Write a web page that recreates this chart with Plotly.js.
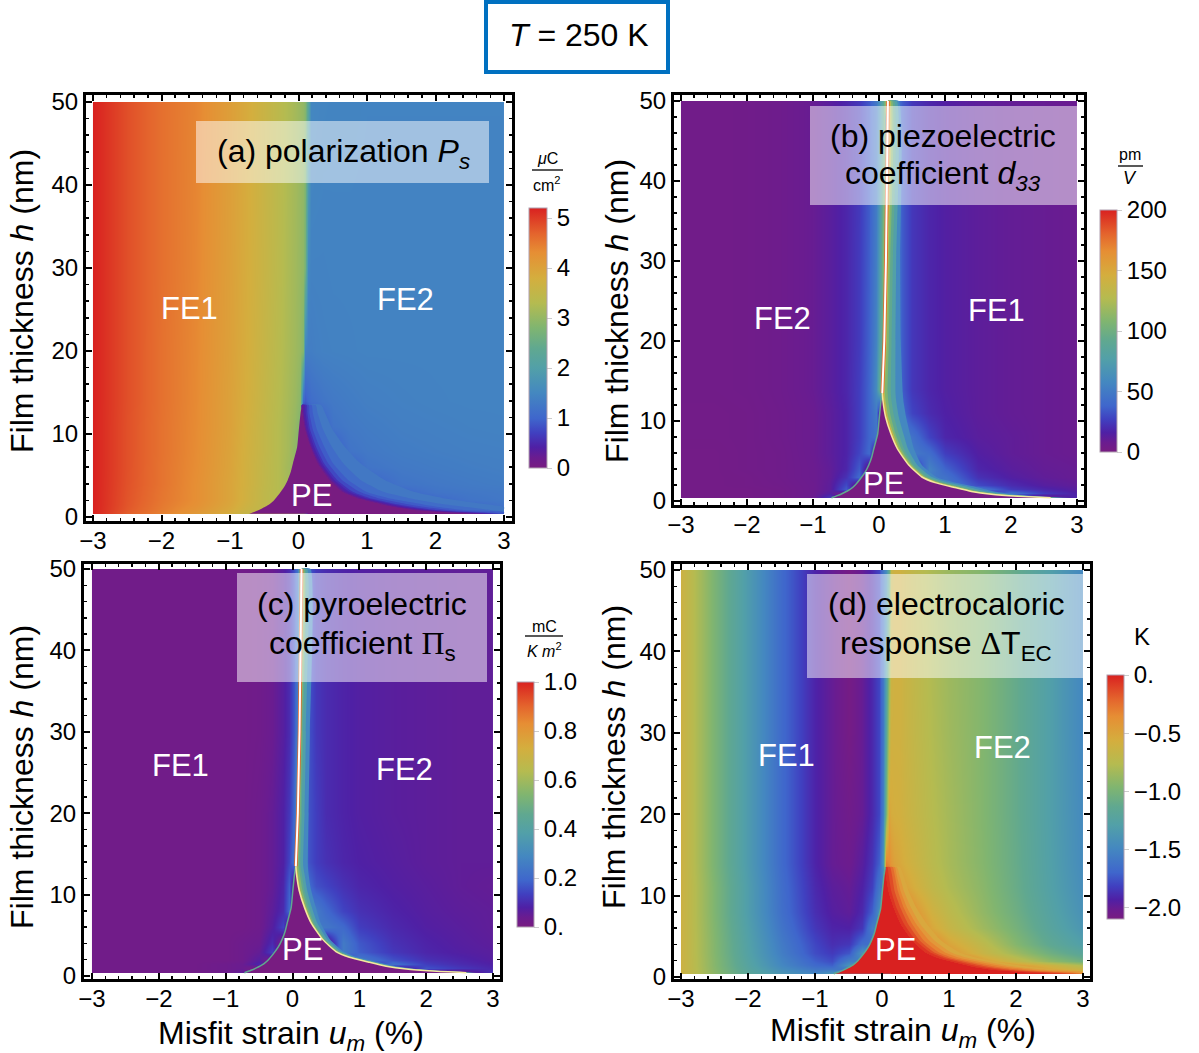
<!DOCTYPE html>
<html><head><meta charset="utf-8">
<script src="https://cdn.plot.ly/plotly-3.0.1.min.js"></script>
<style>html,body{margin:0;padding:0;background:#fff}#c{width:1199px;height:1053px}</style>
</head><body><div id="c"></div>
<script>
const strainNodes=[-3,-2.5,-2,-1.5,-1,-0.75,-0.5,-0.3,-0.15,-0.05,0.02,0.06,0.1,0.14,0.18,0.25,0.35,0.5,0.75,1,1.5,2,2.5,3];
const thicknessNodes=[0.4,1,1.5,2,3,4,6,8,11,14,20,30,50];
const peLeftH=[0.4,0.55,0.7,1,1.25,1.5,2,2.9,3.6,4.5,5.5,6.5,8.4,10.5,12.5,13.5];
const peLeftU=[-0.72,-0.67,-0.62,-0.54,-0.48,-0.43,-0.36,-0.27,-0.21,-0.155,-0.11,-0.08,-0.02,0.005,0.03,0.05];
const peRightH=[13.5,12.5,10.5,8.4,6.5,4.5,3,2.3,1.7,1.2,0.85,0.6,0.4];
const peRightU=[0.05,0.06,0.1,0.18,0.28,0.45,0.65,0.85,1.14,1.4,1.7,2.1,2.6];
const wallH=[13.5,20,30,50];
const wallU=[0.05,0.08,0.105,0.135];
// contour lines on the high-strain side of the boundary, thickness rising
const isoH=[0.4,0.6,0.85,1.2,1.7,2.3,3,4.5,6.5,8.4,10.5,12.5,13.5,20,30,50];
const edgeU=[2.6,2.1,1.7,1.4,1.14,0.85,0.65,0.45,0.28,0.18,0.1,0.06,0.05,0.08,0.105,0.135];
const polar015=[2.68,2.17,1.76,1.45,1.18,0.88,0.67,0.47,0.295,0.19,0.11,0.07,0.06];
const polar030=[2.75,2.25,1.82,1.5,1.22,0.92,0.7,0.49,0.31,0.2,0.12,0.08,0.07];
const polar045=[2.85,2.35,1.9,1.58,1.28,0.97,0.75,0.52,0.34,0.23,0.145,0.105,0.095];
const polar060=[2.95,2.45,2,1.68,1.35,1.03,0.8,0.56,0.37,0.26,0.17,0.13,0.12];
const polar075=[3,2.7,2.2,1.85,1.5,1.15,0.9,0.63,0.43,0.31,0.21,0.16,0.15];
const polar090=[3,3,2.4,2.05,1.7,1.3,1,0.72,0.5,0.38,0.27,0.21,0.19];
const polar105=[3,3,2.8,2.45,2,1.6,1.25,0.9,0.65,0.49,0.36,0.28,0.25];
const polar120=[3,3,3,3,2.6,2.1,1.7,1.25,0.9,0.68,0.5,0.39,0.33];
const piezo54=[2.9,2.4,2.05,1.75,1.5,1.15,0.87,0.65,0.53,0.47,0.41,0.37,0.36,0.33,0.32,0.3];
const piezo73=[2.8,2.3,1.95,1.63,1.38,1.05,0.8,0.58,0.44,0.37,0.3,0.26,0.25,0.25,0.26,0.27];
const piezo91=[2.75,2.25,1.88,1.55,1.3,0.98,0.75,0.53,0.38,0.3,0.23,0.19,0.18,0.19,0.21,0.23];
const piezo109=[2.7,2.2,1.82,1.5,1.24,0.93,0.71,0.5,0.34,0.25,0.18,0.14,0.13,0.15,0.17,0.2];
const piezo127=[2.66,2.16,1.77,1.46,1.2,0.9,0.69,0.48,0.31,0.22,0.14,0.1,0.09,0.12,0.145,0.175];
const piezo163=[2.63,2.13,1.73,1.43,1.17,0.87,0.67,0.46,0.29,0.2,0.12,0.075,0.07,0.1,0.125,0.155];
const pyro27=[2.75,2.25,1.87,1.55,1.28,0.97,0.76,0.56,0.42,0.35,0.28,0.24,0.23,0.24,0.26,0.27];
const pyro36=[2.7,2.2,1.82,1.5,1.24,0.93,0.72,0.52,0.37,0.29,0.22,0.18,0.16,0.18,0.2,0.22];
const pyro45=[2.67,2.17,1.78,1.47,1.21,0.9,0.7,0.49,0.33,0.25,0.18,0.14,0.12,0.14,0.16,0.19];
const pyro55=[2.65,2.15,1.75,1.45,1.19,0.88,0.68,0.47,0.31,0.22,0.15,0.11,0.095,0.12,0.14,0.175];
const pyro73=[2.62,2.12,1.72,1.42,1.16,0.86,0.66,0.46,0.29,0.2,0.12,0.08,0.07,0.1,0.12,0.155];
const caloric050=[3,3,2.75,2.28,1.85,1.45,1.16,0.88,0.67,0.52,0.4,0.32,0.27];
const caloric042=[3,3,2.5,2.05,1.68,1.3,1.03,0.78,0.57,0.44,0.33,0.26,0.22];
const caloric033=[3,2.8,2.28,1.9,1.55,1.18,0.94,0.7,0.51,0.38,0.28,0.22,0.19];
const caloric025=[3,2.6,2.1,1.75,1.42,1.08,0.85,0.62,0.45,0.33,0.24,0.19,0.16];
const caloric016=[2.9,2.4,1.95,1.62,1.32,1,0.78,0.56,0.39,0.28,0.19,0.15,0.12];
const caloric008=[2.75,2.25,1.82,1.5,1.22,0.93,0.72,0.5,0.33,0.22,0.14,0.1,0.08];
const zPolarization=[
[5.2,4.72,4.42,4.12,3.78,3.5,3.35,3.3,3.2,3.1,3,3,3,0,0,0,0,0,0,0,0,0,0,.55],
[5.2,4.78,4.48,4.22,3.88,3.62,3.45,3.35,3.3,3.2,3.1,3.1,0,0,0,0,0,0,0,0,0,.65,.85,1.15],
[5.2,4.8,4.5,4.27,3.92,3.66,3.45,3.35,3.3,3.2,3.1,3.1,0,0,0,0,0,0,0,0,.55,.9,1.02,1.2],
[5.2,4.81,4.52,4.3,3.95,3.7,3.45,3.3,3.2,3.1,3.1,3.1,0,0,0,0,0,0,0,.25,.8,1.02,1.2,1.26],
[5.2,4.82,4.53,4.3,3.95,3.7,3.45,3.3,3.2,3.1,3,3,0,0,0,0,0,0,.45,.8,1.02,1.2,1.25,1.28],
[5.2,4.83,4.55,4.3,3.95,3.72,3.47,3.3,3.15,3.1,3,3,0,0,0,0,0,0,.65,.92,1.2,1.26,1.3,1.33],
[5.2,4.84,4.55,4.32,3.97,3.72,3.48,3.3,3.12,3,2.9,2.9,0,0,0,0,.2,.6,.9,1.2,1.28,1.32,1.35,1.37],
[5.2,4.84,4.56,4.33,3.98,3.73,3.5,3.3,3.15,2.95,2.8,2.8,0,0,0,.3,.55,.8,1.2,1.27,1.33,1.36,1.38,1.39],
[5.2,4.84,4.56,4.34,4,3.75,3.5,3.3,3.15,3,2.8,0,.1,.4,.55,.7,.9,1.2,1.28,1.32,1.37,1.39,1.41,1.42],
[5.2,4.85,4.57,4.35,4,3.78,3.52,3.32,3.17,3.05,2.9,1,.9,1,1.1,1.15,1.22,1.28,1.33,1.37,1.4,1.42,1.43,1.43],
[5.2,4.85,4.57,4.36,4.02,3.8,3.55,3.35,3.2,3.1,3,2.85,1.4,1.35,1.35,1.38,1.4,1.41,1.42,1.43,1.43,1.43,1.43,1.43],
[5.2,4.85,4.58,4.38,4.03,3.82,3.58,3.38,3.22,3.12,3.02,2.95,2.7,1.5,1.42,1.42,1.42,1.43,1.43,1.43,1.43,1.43,1.43,1.43],
[5.2,4.85,4.58,4.4,4.05,3.85,3.6,3.4,3.25,3.15,3.05,2.98,2.85,2.2,1.5,1.48,1.46,1.45,1.45,1.44,1.44,1.44,1.44,1.44]];
const zPiezo=[
[3,3,3,3.5,8,25,0,0,0,0,0,0,0,0,0,0,0,0,0,0,0,0,0,20],
[3,3,3,4,7,15,0,0,0,0,0,0,0,0,0,0,0,0,0,0,0,45,25,16],
[3,3,3,4,7,12,35,0,0,0,0,0,0,0,0,0,0,0,0,0,50,25,18,13],
[3,3,3.5,4.5,7,12,30,0,0,0,0,0,0,0,0,0,0,0,0,50,30,20,14,11],
[3,3,3.5,5,7.5,11,22,40,0,0,0,0,0,0,0,0,0,0,50,45,22,15,11,9],
[3,3,4,5,7.5,11,18,35,0,0,0,0,0,0,0,0,0,0,55,38,18,13,10,9],
[3,3,4,5,8,12,17,28,40,0,0,0,0,0,0,0,50,50,42,26,15,11,9,8],
[3.5,3.5,4,5.5,8,12,17,26,38,45,0,0,0,0,0,50,50,45,28,18,13,11,9,8],
[3.5,3.5,4,5.5,8,12,17,26,38,50,0,0,50,50,50,50,40,28,20,16,12,10,9,8],
[4,4,4.5,6,9,13,18,26,38,60,100,50,50,50,50,50,35,24,18,15,12,10,9,8],
[4,4,4.5,6,9,13,18,25,37,55,85,100,50,50,50,50,35,24,18,15,12,10,9,8],
[4,4,4.5,6,9,13,18,25,36,52,78,110,110,50,50,50,35,24,18,15,12,10,9,8],
[4,4,4.5,6,9,13,18,24,34,48,70,90,125,50,50,50,35,24,18,15,12,10,9,8]];
const zPyro=[
[.02,.02,.02,.02,.03,.06,0,0,0,0,0,0,0,0,0,0,0,0,0,0,0,0,0,.12],
[.02,.02,.02,.02,.03,.04,0,0,0,0,0,0,0,0,0,0,0,0,0,0,0,.16,.12,.09],
[.02,.02,.02,.02,.03,.04,.09,0,0,0,0,0,0,0,0,0,0,0,0,0,.22,.13,.1,.08],
[.02,.02,.02,.02,.02,.03,.07,0,0,0,0,0,0,0,0,0,0,0,0,.25,.16,.11,.09,.07],
[.02,.02,.02,.02,.02,.03,.05,.13,0,0,0,0,0,0,0,0,0,0,.25,.18,.12,.09,.075,.065],
[.02,.02,.02,.02,.02,.03,.04,.1,0,0,0,0,0,0,0,0,0,0,.25,.17,.11,.085,.07,.06],
[.02,.02,.02,.02,.02,.02,.03,.07,.14,0,0,0,0,0,0,0,.25,.24,.2,.13,.095,.075,.065,.055],
[.02,.02,.02,.02,.02,.02,.03,.06,.1,.2,0,0,0,0,0,.25,.25,.2,.14,.11,.085,.07,.06,.055],
[.02,.02,.02,.02,.02,.02,.03,.05,.09,.18,0,0,.25,.25,.25,.2,.16,.14,.11,.09,.075,.065,.055,.05],
[.02,.02,.02,.02,.02,.02,.03,.05,.08,.14,.22,.25,.25,.25,.2,.16,.13,.11,.09,.08,.07,.06,.055,.055],
[.02,.02,.02,.02,.02,.02,.03,.05,.08,.12,.2,.35,.25,.25,.22,.16,.13,.1,.085,.075,.065,.06,.055,.055],
[.02,.02,.02,.02,.02,.02,.025,.04,.07,.1,.17,.25,.5,.25,.25,.16,.12,.1,.085,.075,.065,.06,.055,.055],
[.02,.02,.02,.02,.02,.02,.025,.04,.07,.1,.16,.22,.4,.25,.25,.17,.12,.1,.085,.075,.065,.06,.055,.055]];
const zCaloric=[
[-.62,-.92,-1.18,-1.38,-1.5,-1.35,-1.35,-1.35,-1.35,-1.35,-1.35,-1.35,-1.35,0,0,0,0,0,0,0,0,0,0,-.45],
[-.62,-.94,-1.22,-1.45,-1.6,-1.6,-1.6,-1.6,-1.6,-1.6,-1.6,-1.6,-1.6,0,0,0,0,0,0,0,0,-.3,-.52,-.65],
[-.62,-.95,-1.24,-1.5,-1.68,-1.72,-1.4,-1.4,-1.4,-1.4,-1.4,-1.4,-1.4,0,0,0,0,0,0,0,-.12,-.45,-.62,-.8],
[-.62,-.95,-1.25,-1.52,-1.72,-1.78,-1.55,-1.55,-1.55,-1.55,-1.55,-1.55,-1.55,0,0,0,0,0,0,-.05,-.45,-.68,-.9,-1.05],
[-.62,-.96,-1.27,-1.56,-1.78,-1.84,-1.75,-1.4,-1.4,-1.4,-1.4,-1.4,-1.4,0,0,0,0,0,-.2,-.4,-.65,-.85,-1.05,-1.2],
[-.62,-.96,-1.28,-1.58,-1.8,-1.88,-1.85,-1.65,-1.65,-1.65,-1.65,-1.65,-1.65,0,0,0,0,0,-.3,-.5,-.72,-.95,-1.15,-1.3],
[-.62,-.97,-1.3,-1.62,-1.85,-1.92,-1.93,-1.85,-1.55,-1.55,-1.55,-1.55,-1.55,0,0,0,-.05,-.3,-.52,-.66,-.85,-1.02,-1.22,-1.38],
[-.62,-.98,-1.32,-1.65,-1.88,-1.95,-1.98,-1.9,-1.72,-1.45,-1.45,-1.45,-1.45,0,0,-.1,-.25,-.42,-.6,-.72,-.9,-1.06,-1.25,-1.42],
[-.62,-.98,-1.32,-1.66,-1.9,-1.97,-2,-1.93,-1.82,-1.6,-1.6,0,-.02,-.2,-.3,-.4,-.48,-.58,-.7,-.79,-.93,-1.09,-1.28,-1.45],
[-.62,-1,-1.34,-1.68,-1.92,-2,-2.03,-1.96,-1.86,-1.72,-1.4,-.3,-.35,-.42,-.48,-.52,-.57,-.64,-.74,-.82,-.95,-1.1,-1.29,-1.47],
[-.62,-1,-1.34,-1.68,-1.92,-2,-2.05,-2,-1.9,-1.8,-1.55,-1,-.5,-.55,-.57,-.58,-.62,-.68,-.76,-.83,-.96,-1.11,-1.3,-1.48],
[-.62,-1,-1.34,-1.68,-1.92,-2,-2.08,-2,-1.9,-1.8,-1.6,-1.2,-.75,-.6,-.6,-.6,-.64,-.7,-.78,-.85,-.96,-1.11,-1.3,-1.5],
[-.62,-1,-1.34,-1.68,-1.92,-2,-2.08,-2,-1.9,-1.8,-1.6,-1.45,-1.1,-.68,-.6,-.6,-.65,-.72,-.8,-.87,-.96,-1.11,-1.3,-1.5]];
const rainbowStops=[0,.04,.08,.135,.19,.29,.385,.46,.54,.635,.73,.83,.9,1];
const rainbowColors=['#781C81','#6A1C90','#4F20A5','#4040C0','#3F66CC','#4488C0','#52A0A8','#60A890','#80B570','#B5BB50','#D4AE3E','#E68E34','#E4652D','#D92120'];

const W=1199,H=1053,FONT='"Liberation Sans", Arial, sans-serif',SERIF='Liberation Serif';
const px=v=>v/W, py=v=>1-v/H;
const scale=rainbowColors.map((c,i)=>[rainbowStops[i],c]);
// Copies the outermost rows and columns so the colours stop at the data edge.
const padX=[strainNodes[0],strainNodes[0]+0.001,...strainNodes.slice(1,-1),strainNodes[strainNodes.length-1]-0.001,strainNodes[strainNodes.length-1]];
const padY=[thicknessNodes[0],thicknessNodes[0]+0.001,...thicknessNodes.slice(1,-1),thicknessNodes[thicknessNodes.length-1]-0.001,thicknessNodes[thicknessNodes.length-1]];
const padZ=z=>{const r=z.map(q=>[q[0],...q,q[q.length-1]]);return [r[0],...r,r[r.length-1]];};

const panels=[
 {id:'',f:[83,515,92,524],x3:[93,504],y50:[102,517],z:zPolarization,zr:[0,5.2],cb:[529,208,18,260],tv:[0,1,2,3,4,5],tt:['0','1','2','3','4','5'],pe:'#781C81',
  bands:[[polar120,'#4278C4'],[polar105,'#406CC8'],[polar090,'#3F5CC8'],[polar075,'#4048C2'],[polar060,'#4530B5'],[polar045,'#4D22A8'],[polar030,'#5C1E9C'],[polar015,'#6C1C8E']]},
 {id:'2',f:[671,1087,92,508],x3:[681,1077],y50:[101,501],z:zPiezo,zr:[0,200],cb:[1100,210,17,242],tv:[0,50,100,150,200],tt:['0','50','100','150','200'],pe:'#781C81',ridge:true,
  bands:[[piezo54,'#4488C0'],[piezo73,'#52A0A8'],[piezo91,'#60A890'],[piezo109,'#80B570'],[piezo127,'#B5BB50'],[piezo163,'#E0A038']]},
 {id:'3',f:[81,503,561,982],x3:[92,493],y50:[569,976],z:zPyro,zr:[0,1],cb:[517,682,17,245],tv:[0,.2,.4,.6,.8,1],tt:['0.','0.2','0.4','0.6','0.8','1.0'],pe:'#781C81',ridge:true,
  bands:[[pyro27,'#4488C0'],[pyro36,'#52A0A8'],[pyro45,'#60A890'],[pyro55,'#80B570'],[pyro73,'#C8B548']]},
 {id:'4',f:[671,1093,561,982],x3:[681,1083],y50:[570,977],z:zCaloric,zr:[-2.1,0],cb:[1107,675,17,244],tv:[0,-.5,-1,-1.5,-2],tt:['0.','−0.5','−1.0','−1.5','−2.0'],pe:'#D92120',leftEdge:true,
  bands:[[caloric050,'#D9A83E'],[caloric042,'#E2983A'],[caloric033,'#E68432'],[caloric025,'#E46B2E'],[caloric016,'#E04C27'],[caloric008,'#DD3423']]}
];
const traces=[];const layout={width:W,height:H,margin:{l:0,r:0,t:0,b:0},paper_bgcolor:'#fff',plot_bgcolor:'#fff',showlegend:false,font:{family:FONT,color:'#000'},shapes:[],annotations:[]};
const polyU=[...peLeftU,...peRightU], polyH=[...peLeftH,...peRightH];
panels.forEach(p=>{
 const xa='x'+p.id, ya='y'+p.id;
 traces.push({type:'heatmap',x:padX,y:padY,z:padZ(p.z),xaxis:xa,yaxis:ya,zsmooth:'best',colorscale:scale,zmin:p.zr[0],zmax:p.zr[1],hoverinfo:'skip',
  colorbar:{x:px(p.cb[0]),xanchor:'left',y:py(p.cb[1]),yanchor:'top',thickness:p.cb[2],thicknessmode:'pixels',len:p.cb[3],lenmode:'pixels',xpad:0,ypad:0,outlinewidth:1,outlinecolor:'#b0a0b0',tickmode:'array',tickvals:p.tv,ticktext:p.tt,ticks:'outside',ticklen:5,tickcolor:'#ccc',tickwidth:1,tickfont:{size:24,family:FONT,color:'#000'}}});
 (p.bands||[]).forEach(b=>{
  const n=b[0].length, hs=isoH.slice(0,n), back=edgeU.slice(0,n);
  traces.push({type:'scatter',x:[...b[0],...[...back].reverse()],y:[...hs,...[...hs].reverse()],xaxis:xa,yaxis:ya,mode:'lines',fill:'toself',fillcolor:b[1],line:{width:0,color:b[1],shape:'spline',smoothing:0.5},hoverinfo:'skip'});
 });
 traces.push({type:'scatter',x:polyU,y:polyH,xaxis:xa,yaxis:ya,mode:'lines',fill:'toself',fillcolor:p.pe,line:{width:0,color:p.pe,shape:'spline',smoothing:0.5},hoverinfo:'skip'});
 if(p.ridge||p.leftEdge) traces.push({type:'scatter',x:peLeftU,y:peLeftH,xaxis:xa,yaxis:ya,mode:'lines',line:{width:1.5,color:'#60A890',shape:'spline',smoothing:0.5},hoverinfo:'skip'});
 if(p.ridge){
  traces.push({type:'scatter',x:peRightU,y:peRightH,xaxis:xa,yaxis:ya,mode:'lines',line:{width:1.5,color:'#F4E8A0',shape:'spline',smoothing:0.5},hoverinfo:'skip'});
  traces.push({type:'scatter',x:wallU,y:wallH,xaxis:xa,yaxis:ya,mode:'lines',line:{width:3.5,color:'#E6642C'},hoverinfo:'skip'});
  traces.push({type:'scatter',x:wallU,y:wallH,xaxis:xa,yaxis:ya,mode:'lines',line:{width:2,color:'#ffffff'},hoverinfo:'skip'});
 }
 const [L,R,T,B]=p.f.map((v,i)=>v+(i%2?-3:3));
 const ux=(p.x3[1]-p.x3[0])/6, uy=(p.y50[1]-p.y50[0])/50;
 const common={showgrid:false,zeroline:false,showline:true,linecolor:'#000',linewidth:3,mirror:'allticks',ticks:'inside',ticklen:6,tickwidth:2,tickcolor:'#000'};
 layout['xaxis'+p.id]={...common,domain:[px(L),px(R)],range:[-3-(p.x3[0]-L)/ux,3+(R-p.x3[1])/ux],anchor:ya,tickmode:'array',tickvals:[-3,-2,-1,0,1,2,3],ticktext:['−3','−2','−1','0','1','2','3'],tickfont:{size:24,family:FONT,color:'#000'},ticklabelstandoff:-4,minor:{dtick:0.2,tick0:0,ticks:'inside',ticklen:3,tickwidth:1.5,tickcolor:'#000',showgrid:false}};
 layout['yaxis'+p.id]={...common,domain:[1-B/H,1-T/H],range:[-(B-p.y50[1])/uy,50+(p.y50[0]-T)/uy],anchor:xa,tickmode:'array',tickvals:[0,10,20,30,40,50],tickfont:{size:24,family:FONT,color:'#000'},minor:{dtick:2,tick0:0,ticks:'inside',ticklen:3,tickwidth:1.5,tickcolor:'#000',showgrid:false}};
});
const rect=(x0,y0,x1,y1,o)=>layout.shapes.push(Object.assign({type:'rect',xref:'paper',yref:'paper',x0:px(x0),x1:px(x1),y0:py(y0),y1:py(y1),layer:'above',line:{width:0}},o));
const note=(x,y,text,size,color,angle)=>layout.annotations.push({xref:'paper',yref:'paper',x:px(x),y:py(y),xanchor:'center',yanchor:'middle',showarrow:false,text,textangle:angle||0,font:{size,family:FONT,color:color||'#000'}});
const hline=(x0,x1,y)=>layout.shapes.push({type:'line',xref:'paper',yref:'paper',x0:px(x0),x1:px(x1),y0:py(y),y1:py(y),line:{width:1.5,color:'#222'}});
const veil={fillcolor:'rgba(255,255,255,0.5)'};
rect(196,121,489,183,veil);rect(810,106,1077,205,veil);rect(237,573,487,682,veil);rect(807,574,1084,678,veil);
rect(486,2,668,72,{fillcolor:'rgba(0,0,0,0)',line:{width:4,color:'#0070C0'}});
note(579,35,'<i>T</i> = 250 K',32);
note(343,154,'(a) polarization <i>P<sub>s</sub></i>',32);
note(943,136,'(b) piezoelectric',32);
note(943,176,'coefficient <i>d<sub>33</sub></i>',32);
note(362,604,'(c) pyroelectric',32);
note(362,645,`coefficient <span style="font-family:${SERIF}">Π</span><sub>s</sub>`,32);
note(946,604,'(d) electrocaloric',32);
note(946,645,`response <span style="font-family:${SERIF}">Δ</span>T<sub>EC</sub>`,32);
[[189,309,'FE1'],[405,300,'FE2'],[311,495,'PE'],[782,318,'FE2'],[996,311,'FE1'],[883,483,'PE'],[180,765,'FE1'],[404,769,'FE2'],[302,949,'PE'],[786,755,'FE1'],[1002,747,'FE2'],[895,949,'PE']].forEach(a=>note(a[0],a[1],a[2],31,'#fff'));
note(547,158,'<i>μ</i>C',16);hline(532,563,170);note(547,184,'cm<sup>2</sup>',16);
note(1130,155,'pm',16);hline(1118,1143,166);note(1130,178,'<i>V</i>',18);
note(544,626,'mC',16);hline(525,563,636);note(544,650,'<i>K m</i><sup>2</sup>',16);
note(1142,636,'K',24);
const yTitle='Film thickness <i>h</i> (nm)', xTitle='Misfit strain <i>u<sub>m</sub></i> (%)';
note(22,301,yTitle,32,'#000',-90);note(617,311,yTitle,32,'#000',-90);note(22,777,yTitle,32,'#000',-90);note(614,757,yTitle,32,'#000',-90);
note(291,1035,xTitle,32);note(903,1032,xTitle,32);
Plotly.newPlot('c',traces,layout,{displayModeBar:false,staticPlot:true});
</script></body></html>
